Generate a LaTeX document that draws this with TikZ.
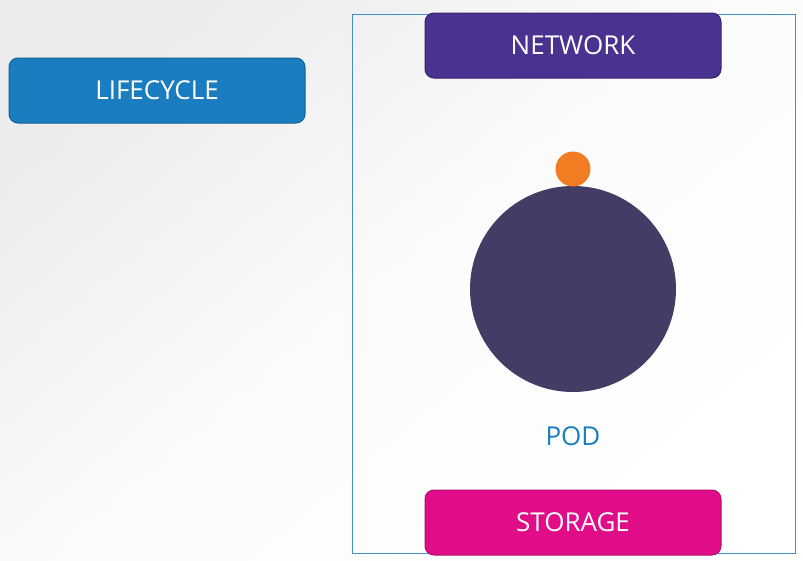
\documentclass[tikz,border=0pt]{standalone}
\usepackage{fontspec}
\setmainfont{Open Sans}
\begin{document}
\begin{tikzpicture}[x=1pt,y=-1pt,
  tag/.style={draw, line width=1pt, rounded corners=9pt, minimum width=296pt, minimum height=65pt, text=white, font=\fontsize{26}{30}\selectfont, inner sep=0pt},
]
\useasboundingbox (0,0) rectangle (803,560);
\shade[shading=axis, top color=gray!15, bottom color=white, middle color=gray!3, shading angle=40] (0,0) rectangle (803,560);
\node[tag, fill={rgb,255:red,26;green,125;blue,192}, draw={rgb,255:red,20;green,95;blue,150}] (lifecycle) at (157,90.5) {LIFECYCLE};
\draw[draw={rgb,255:red,63;green,143;blue,200}, line width=1pt] (352,14) rectangle (795,553);
\node[tag, fill={rgb,255:red,74;green,50;blue,145}, draw={rgb,255:red,55;green,35;blue,110}] (network) at (573,45.5) {NETWORK};
\node[tag, fill={rgb,255:red,224;green,12;blue,136}, draw={rgb,255:red,176;green,16;blue,110}] (storage) at (573,522.5) {STORAGE};
\node[circle, fill={rgb,255:red,67;green,61;blue,102}, minimum size=206pt, inner sep=0pt] (pod) at (573,289) {};
\node[circle, fill={rgb,255:red,242;green,124;blue,33}, minimum size=35pt, inner sep=0pt] (ip) at (573,169) {};
\node[text={rgb,255:red,26;green,125;blue,192}, font=\fontsize{26}{30}\selectfont] (podlabel) at (573,436) {POD};
\end{tikzpicture}
\end{document}
